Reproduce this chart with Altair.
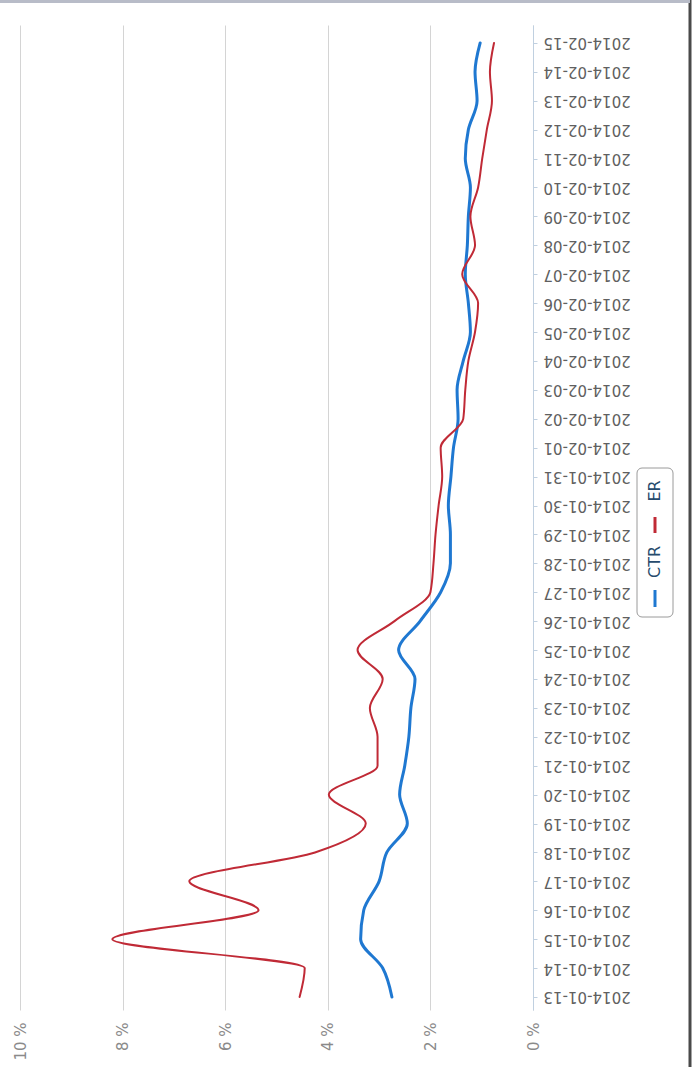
import altair as alt
import pandas as pd

# Daily dates on the category axis
dates = [
    "2014-01-13", "2014-01-14", "2014-01-15", "2014-01-16", "2014-01-17",
    "2014-01-18", "2014-01-19", "2014-01-20", "2014-01-21", "2014-01-22",
    "2014-01-23", "2014-01-24", "2014-01-25", "2014-01-26", "2014-01-27",
    "2014-01-28", "2014-01-29", "2014-01-30", "2014-01-31", "2014-02-01",
    "2014-02-02", "2014-02-03", "2014-02-04", "2014-02-05", "2014-02-06",
    "2014-02-07", "2014-02-08", "2014-02-09", "2014-02-10", "2014-02-11",
    "2014-02-12", "2014-02-13", "2014-02-14", "2014-02-15",
]

# Click-through rate, percent
ctr = [
    2.75, 2.93, 3.36, 3.30, 3.00, 2.85, 2.45, 2.60, 2.50, 2.42,
    2.38, 2.30, 2.62, 2.20, 1.80, 1.61, 1.61, 1.65, 1.60, 1.55,
    1.46, 1.48, 1.36, 1.22, 1.26, 1.32, 1.28, 1.26, 1.22, 1.32,
    1.26, 1.09, 1.13, 1.03,
]

# Engagement rate, percent
er = [
    4.55, 4.45, 8.20, 5.35, 6.70, 4.25, 3.26, 3.98, 3.03, 3.03,
    3.18, 2.93, 3.42, 2.70, 2.00, 1.94, 1.90, 1.84, 1.77, 1.80,
    1.36, 1.32, 1.26, 1.13, 1.07, 1.38, 1.13, 1.22, 1.07, 0.99,
    0.90, 0.80, 0.84, 0.76,
]

value_ticks = [0, 2, 4, 6, 8, 10]
series_names = ["CTR", "ER"]
series_colors = ["#1f78d1", "#c02a36"]

rows = []
for name, values in zip(series_names, [ctr, er]):
    for i, (d, v) in enumerate(zip(dates, values)):
        rows.append({"day": i, "date": d, "series": name, "value": v})
df = pd.DataFrame(rows)

W, H = 513, 985
label_lookup = "[" + ",".join(f"'{d}'" for d in dates) + "][datum.value]"

x_enc = alt.X(
    "value:Q",
    scale=alt.Scale(domain=[0, 10], reverse=True, nice=False, zero=True),
    axis=alt.Axis(
        values=value_ticks,
        labelExpr="datum.value + ' %'",
        labelAngle=270,
        labelFont="DejaVu Sans",
        labelFontSize=15,
        labelColor="#8a8a8a",
        labelPadding=12,
        domain=False,
        ticks=False,
        grid=True,
        gridColor="#d4d4d4",
        gridWidth=1,
        title=None,
    ),
)

y_enc = alt.Y(
    "day:Q",
    scale=alt.Scale(domain=[-0.45, 33.62], nice=False, zero=False),
    axis=alt.Axis(
        orient="right",
        values=list(range(len(dates))),
        labelExpr=label_lookup,
        labelAngle=180,
        labelFont="DejaVu Sans",
        labelFontSize=15,
        labelColor="#606060",
        labelPadding=6,
        domainColor="#c0d0e0",
        domainWidth=1,
        tickColor="#c0d0e0",
        tickSize=4,
        grid=False,
        title=None,
    ),
)


def series_line(name, color, width):
    # horizontal area with zero thickness -> smooth curve along the date axis
    return (
        alt.Chart(df)
        .transform_filter(alt.datum.series == name)
        .mark_area(
            orient="horizontal",
            interpolate="monotone",
            fillOpacity=0,
            stroke=color,
            strokeWidth=width,
            strokeJoin="round",
        )
        .encode(x=x_enc, x2="value:Q", y=y_enc)
    )


ctr_line = series_line("CTR", series_colors[0], 3)
er_line = series_line("ER", series_colors[1], 2)

# Legend box, rotated like the rest of the chart
one = pd.DataFrame({"k": [0]})
legend_box = alt.Chart(one).mark_rect(
    cornerRadius=5, fill="white", stroke="#9a9a9a", strokeWidth=1
).encode(x=alt.value(617), x2=alt.value(653), y=alt.value(443), y2=alt.value(592))
legend_ctr_swatch = alt.Chart(one).mark_rule(
    color=series_colors[0], strokeWidth=3
).encode(x=alt.value(635), y=alt.value(565), y2=alt.value(582))
legend_er_swatch = alt.Chart(one).mark_rule(
    color=series_colors[1], strokeWidth=3
).encode(x=alt.value(635), y=alt.value(492), y2=alt.value(508))
legend_ctr_text = alt.Chart(one).mark_text(
    text="CTR", angle=270, font="DejaVu Sans", fontSize=16,
    color="#274b6d", align="center", baseline="middle",
).encode(x=alt.value(635), y=alt.value(537))
legend_er_text = alt.Chart(one).mark_text(
    text="ER", angle=270, font="DejaVu Sans", fontSize=16,
    color="#274b6d", align="center", baseline="middle",
).encode(x=alt.value(635), y=alt.value(466))

# Page frame
frame_right = alt.Chart(one).mark_rule(color="#4a4a4a", strokeWidth=3).encode(
    x=alt.value(670), y=alt.value(-25), y2=alt.value(1042)
)
frame_top = alt.Chart(one).mark_rule(color="#b8bcc8", strokeWidth=4).encode(
    x=alt.value(-20), x2=alt.value(670), y=alt.value(-24)
)

chart = (
    alt.layer(
        ctr_line, er_line,
        legend_box, legend_ctr_swatch, legend_er_swatch,
        legend_ctr_text, legend_er_text,
        frame_right, frame_top,
    )
    .properties(
        width=W,
        height=H,
        autosize=alt.AutoSizeParams(type="none"),
        padding={"left": 20, "top": 25, "right": 163, "bottom": 57},
        background="white",
    )
    .configure_view(stroke=None)
)

chart.save("out.html", embed_options={"renderer": "svg", "actions": False})
